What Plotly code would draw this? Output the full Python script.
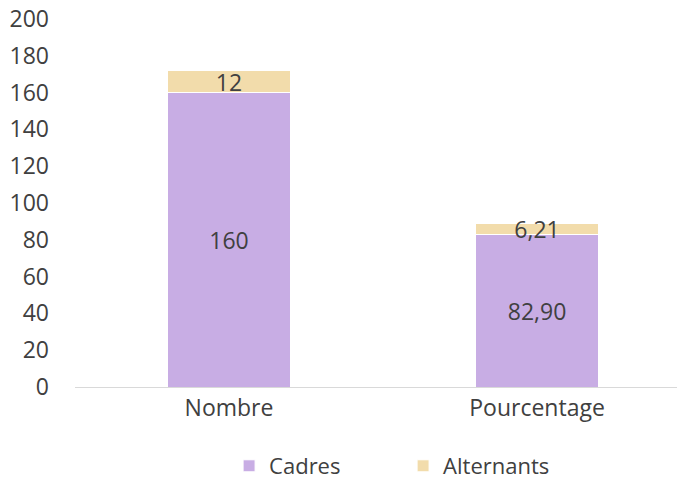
import plotly.graph_objects as go

categories = ["Nombre", "Pourcentage"]
cadres = [160, 82.90]
alternants = [12, 6.21]
cadres_labels = ["160", "82,90"]
alternants_labels = ["12", "6,21"]
y_ticks = [0, 20, 40, 60, 80, 100, 120, 140, 160, 180, 200]

FONT = "Open Sans"
TXT = "#404040"
FS = 23

fig = go.Figure()
fig.add_trace(go.Bar(
    name="Cadres", x=categories, y=cadres, text=cadres_labels,
    textposition="inside", insidetextanchor="middle", textangle=0,
    marker=dict(color="#C8ADE4", line=dict(color="white", width=1)),
    width=0.4, textfont=dict(color=TXT, size=FS, family=FONT),
    constraintext="none",
))
fig.add_trace(go.Bar(
    name="Alternants", x=categories, y=alternants, text=alternants_labels,
    textposition="inside", insidetextanchor="middle", textangle=0,
    marker=dict(color="#F2DCAB", line=dict(color="white", width=1)),
    width=0.4, textfont=dict(color=TXT, size=FS, family=FONT),
    constraintext="none",
))
fig.update_layout(
    barmode="stack",
    width=677, height=481,
    margin=dict(l=75, r=0, t=19, b=94, autoexpand=False),
    paper_bgcolor="white", plot_bgcolor="white",
    font=dict(family=FONT, color=TXT, size=FS),
    uniformtext=dict(mode="show", minsize=FS),
    legend=dict(orientation="h", x=0.545, xanchor="center",
                yref="container", y=0.0312, yanchor="middle",
                font=dict(size=22, color=TXT, family=FONT), itemwidth=30,
                entrywidth=129, traceorder="normal"),
    xaxis=dict(range=[-0.5, 1.4545], showline=True, linecolor="#D9D9D9", linewidth=1,
               ticks="", automargin=False, tickfont=dict(size=FS, color=TXT)),
    yaxis=dict(range=[0, 200], tickvals=y_ticks, showgrid=False, zeroline=False,
               showline=False, ticks="", ticklabelstandoff=25, automargin=False,
               ticklabeloverflow="allow", tickfont=dict(size=FS, color=TXT)),
)
fig.write_html("out.html", post_script="document.body.style.margin='0';",
               config={"displayModeBar": False})
